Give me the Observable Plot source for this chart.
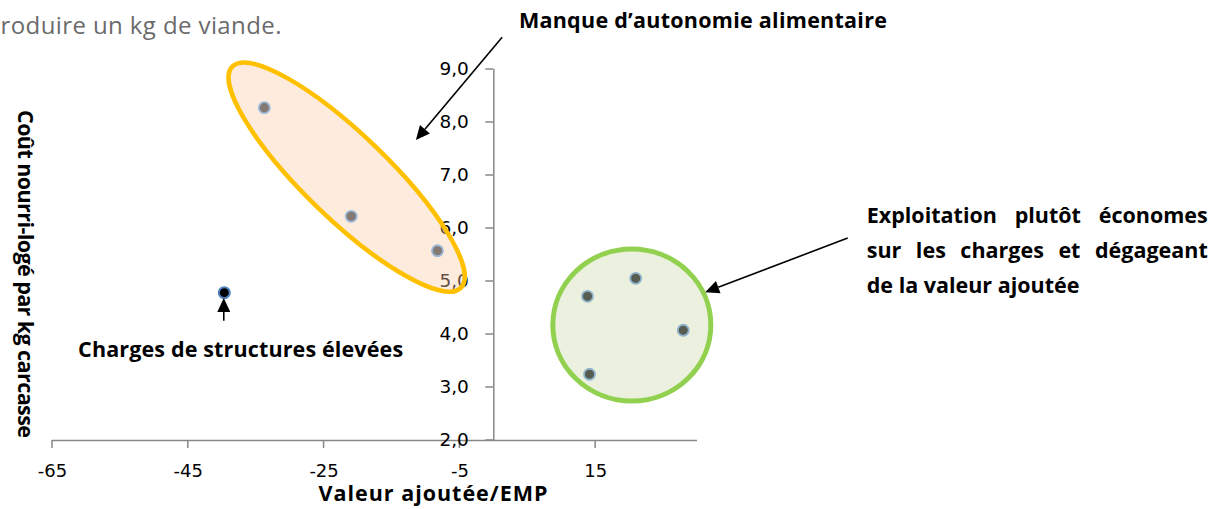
<!DOCTYPE html>
<html><head><meta charset="utf-8">
<script src="https://cdn.jsdelivr.net/npm/d3@7"></script>
<script src="https://cdn.jsdelivr.net/npm/@observablehq/plot@0.6"></script>
<style>body{margin:0;background:#fff;} svg{overflow:visible;}</style>
</head><body><div id="chart"></div>
<script>
// ---- data ----
const xValues = [-33.8, -21.0, -8.3, -39.7, 20.9, 13.8, 27.9, 14.1];
const yValues = [8.28, 6.23, 5.58, 4.79, 5.06, 4.72, 4.08, 3.25];
const groups  = ["autonomie","autonomie","autonomie","structure","econome","econome","econome","econome"];
const xTicks = [-65, -45, -25, -5, 15];
const xTickLabels = ["-65", "-45", "-25", "-5", "15"];
const yTicks = [2, 3, 4, 5, 6, 7, 8, 9];
const yTickLabels = ["2,0", "3,0", "4,0", "5,0", "6,0", "7,0", "8,0", "9,0"];
const xTitle = "Valeur ajoutée/EMP";
const yTitle = "Coût nourri-logé par kg carcasse";
const topText = "roduire un kg de viande.";
const labelAutonomie = "Manque d’autonomie alimentaire";
const labelStructure = "Charges de structures élevées";
const labelEconome = ["Exploitation plutôt économes", "sur les charges et dégageant", "de la valeur ajoutée"];

// ---- annotation anchors (data units) ----
const autonomieAnchor = {x: 3.7, y: 9.913};
const structureAnchor = {x: -37.3, y: 3.70};
const economeAnchor = {x: 55.0, ys: [6.22, 5.56, 4.90]};
const arrows = [
  {x1: 1.3, y1: 9.60, x2: -11.4, y2: 7.66},
  {x1: 52.2, y1: 5.81, x2: 31.2, y2: 4.79},
  {x1: -39.7, y1: 4.25, x2: -39.7, y2: 4.68}
];
const orangeEllipse = {cx: -21.6, cy: 6.96};
const greenEllipse = {cx: 20.4, cy: 4.17};

// ---- text widths to match the reference layout (px) ----
const targetWidths = new Map([
  [labelAutonomie, 368], [labelStructure, 325], [xTitle, 229], [yTitle, 328], [topText, 281]
]);

const points = xValues.map((x, i) => ({x, y: yValues[i], group: groups[i]}));
const NS = "http://www.w3.org/2000/svg";
const el = (name, attrs) => { const e = document.createElementNS(NS, name); for (const k in attrs) e.setAttribute(k, attrs[k]); return e; };

function ellipseMark(c, rx, ry, angle, style) {
  return (index, scales) => {
    const px = scales.x(c.cx), py = scales.y(c.cy);
    return el("ellipse", Object.assign({cx: px, cy: py, rx, ry, transform: `rotate(${angle} ${px} ${py})`}, style));
  };
}
function ticksMark(vals, dir) {
  return (index, scales) => {
    const g = el("g", {stroke: "#878787", "stroke-width": 1.5});
    for (const v of vals) {
      if (dir === "y") { const y = scales.y(v), x = scales.x(0); g.appendChild(el("line", {x1: x - 8, x2: x, y1: y, y2: y})); }
      else { const x = scales.x(v), y = scales.y(2); g.appendChild(el("line", {x1: x, x2: x, y1: y, y2: y + 8})); }
    }
    return g;
  };
}
function arrowsMark(list) {
  return (index, scales) => {
    const g = el("g", {});
    for (const a of list) {
      const x1 = scales.x(a.x1), y1 = scales.y(a.y1), x2 = scales.x(a.x2), y2 = scales.y(a.y2);
      const ang = Math.atan2(y2 - y1, x2 - x1), L = 14, W = 6.5;
      const bx = x2 - L * Math.cos(ang), by = y2 - L * Math.sin(ang);
      g.appendChild(el("line", {x1, y1, x2: bx, y2: by, stroke: "#000", "stroke-width": 1.6}));
      const px = -Math.sin(ang) * W, py = Math.cos(ang) * W;
      g.appendChild(el("polygon", {points: `${x2},${y2} ${bx + px},${by + py} ${bx - px},${by - py}`, fill: "#000"}));
    }
    return g;
  };
}
function justifiedMark(lines, anchor, width) {
  return (index, scales) => {
    const g = el("g", {"font-family": "Open Sans", "font-weight": "bold", "font-size": 21.5, fill: "#000", "text-anchor": "start"});
    lines.forEach((t, i) => {
      const txt = el("text", {x: scales.x(anchor.x), y: scales.y(anchor.ys[i]), dy: "0.32em", "text-anchor": "start"});
      if (i < lines.length - 1) { txt.setAttribute("class", "justify"); txt.setAttribute("data-w", width); }
      txt.textContent = t;
      g.appendChild(txt);
    });
    return g;
  };
}

const boldFont = {fontFamily: "Open Sans", fontWeight: "bold", fontSize: 21.5, fill: "#000"};

const chart = Plot.plot({
  width: 1211, height: 509,
  marginLeft: 52, marginRight: 514, marginTop: 69, marginBottom: 69,
  x: {domain: [-65, 30], axis: null},
  y: {domain: [2, 9], axis: null},
  style: {background: "#fff", overflow: "visible"},
  marks: [
    Plot.ruleY([2], {stroke: "#878787", strokeWidth: 1.5}),
    Plot.ruleX([0], {stroke: "#878787", strokeWidth: 1.5}),
    ticksMark(yTicks, "y"),
    ticksMark(xTicks, "x"),
    Plot.text(yTicks, {x: 0, y: d => d, text: (d, i) => yTickLabels[i], textAnchor: "end", dx: -25, fontSize: 18.5, fontFamily: "DejaVu Sans", fill: "#000"}),
    Plot.text(xTicks, {x: d => d, y: 2, text: (d, i) => xTickLabels[i], dy: 31, fontSize: 18, fontFamily: "DejaVu Sans", fill: "#000"}),
    ellipseMark(greenEllipse, 79, 76, 0, {fill: "#ebf1de", stroke: "#92d050", "stroke-width": 5}),
    ellipseMark(orangeEllipse, 159, 42, 44, {fill: "#f9cba8", "fill-opacity": 0.38, stroke: "#ffc000", "stroke-width": 4.5}),
    Plot.dot(points.filter(d => d.group === "autonomie"), {x: "x", y: "y", r: 5.5, fill: "#857a73", stroke: "#9ab8d8", strokeWidth: 1.8}),
    Plot.dot(points.filter(d => d.group === "econome"), {x: "x", y: "y", r: 5.5, fill: "#585d52", stroke: "#8fb4cc", strokeWidth: 1.8}),
    Plot.dot(points.filter(d => d.group === "structure"), {x: "x", y: "y", r: 5.5, fill: "#000", stroke: "#4f81bd", strokeWidth: 2}),
    arrowsMark(arrows),
    Plot.text([labelAutonomie], {x: autonomieAnchor.x, y: autonomieAnchor.y, text: d => d, textAnchor: "start", ...boldFont}),
    Plot.text([labelStructure], {x: structureAnchor.x, y: structureAnchor.y, text: d => d, textAnchor: "middle", ...boldFont}),
    justifiedMark(labelEconome, economeAnchor, 341),
    Plot.text([xTitle], {frameAnchor: "bottom", text: d => d, textAnchor: "middle", dx: 58, dy: 60, ...boldFont}),
    Plot.text([yTitle], {frameAnchor: "left", text: d => d, textAnchor: "middle", rotate: 90, dx: -28, dy: 19, ...boldFont}),
    Plot.text([topText], {frameAnchor: "top-left", text: d => d, textAnchor: "start", dx: -52, dy: -53, fontSize: 24, fontFamily: "Open Sans", fill: "#6b6b6b"})
  ]
});
document.getElementById("chart").appendChild(chart);
chart.querySelectorAll("text").forEach(t => {
  const w = targetWidths.get(t.textContent);
  if (w) { t.setAttribute("textLength", w); t.setAttribute("lengthAdjust", "spacing"); }
});
chart.querySelectorAll("text.justify").forEach(t => {
  const target = +t.getAttribute("data-w");
  const len = t.getComputedTextLength();
  const spaces = (t.textContent.match(/ /g) || []).length;
  if (spaces) t.setAttribute("word-spacing", (target - len) / spaces);
});
</script></body></html>
